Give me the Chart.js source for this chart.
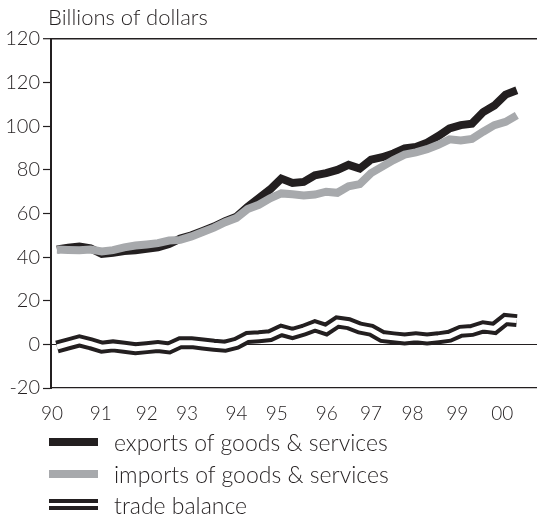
<!DOCTYPE html>
<html>
<head>
<meta charset="utf-8">
<script src="https://cdn.jsdelivr.net/npm/chart.js@4"></script>
<style>
  html, body { margin: 0; padding: 0; background: #fff; }
  body { width: 537px; height: 517px; position: relative; overflow: hidden; font-family: Lato, "Noto Sans", sans-serif; font-weight: 300; color: #231f20; }
  #chart { position: absolute; left: 0; top: 0; }
  .title { position: absolute; left: 48px; top: 4px; font-size: 22px; line-height: 26px; white-space: nowrap; }
  .leg { position: absolute; left: 0; height: 30px; width: 537px; }
  .leg .txt { position: absolute; left: 114px; top: 0; font-size: 23px; line-height: 30px; white-space: nowrap; }
  .leg .sym { position: absolute; left: 49px; width: 49px; }
</style>
</head>
<body>
<canvas id="chart" width="537" height="428"></canvas>
<div class="title">Billions of dollars</div>
<div class="leg" style="top:427px"><div class="sym" style="top:11px;height:8px;background:#231f20"></div><div class="txt">exports of goods &amp; services</div></div>
<div class="leg" style="top:459px"><div class="sym" style="top:11px;height:8px;background:#a7a9ac"></div><div class="txt">imports of goods &amp; services</div></div>
<div class="leg" style="top:490px"><div class="sym" style="top:9px;height:3.5px;background:#231f20"></div><div class="sym" style="top:16px;height:3.5px;background:#231f20"></div><div class="txt">trade balance</div></div>
<script>
// Quarterly data, 1990Q1 .. 2000Q2 (billions of dollars)
const exportsVals = [43.5, 44.3, 44.8, 44.0, 41.5, 42.0, 42.8, 43.2, 43.8, 44.5, 46.0, 48.5,
  50.0, 52.0, 54.0, 56.5, 58.5, 63.0, 67.0, 71.0, 76.0, 74.0, 74.5, 77.5,
  78.5, 80.0, 82.3, 80.6, 84.7, 85.8, 87.5, 89.8, 90.5, 92.5, 95.5, 99.0,
  100.5, 101.2, 106.5, 109.5, 114.5, 116.5];
const importsVals = [43.5, 43.3, 43.2, 43.5, 42.6, 43.2, 44.5, 45.3, 45.8, 46.4, 47.6, 47.9,
  49.5, 51.5, 53.5, 56.0, 58.0, 62.0, 64.0, 67.0, 69.2, 68.8, 68.3, 68.7,
  70.0, 69.5, 72.5, 73.5, 78.5, 81.5, 84.5, 87.0, 88.0, 89.5, 91.5, 94.0,
  93.5, 94.2, 97.5, 100.5, 102.0, 105.0];
const balanceVals = [-1.2, 0.2, 1.6, 0.3, -1.3, -0.7, -1.3, -2.0, -1.5, -1.0, -1.6, 0.8,
  0.8, 0.2, -0.4, -0.8, 0.5, 3.2, 3.5, 4.0, 6.4, 5.0, 6.5, 8.5,
  6.8, 10.2, 9.5, 7.5, 6.5, 3.6, 3.0, 2.5, 3.0, 2.5, 3.0, 3.7,
  6.0, 6.4, 8.0, 7.3, 11.4, 10.9];
// Year tick labels and where they sit (in quarter-index units)
const yearLabels = ['90', '91', '92', '93', '94', '95', '96', '97', '98', '99', '00'];
const yearTickPos = [-0.45, 3.9, 8.0, 11.6, 16.0, 19.6, 24.06, 28.0, 31.7, 35.7, 39.7];
// Value axis ticks and their printed labels (as shown in the original)
const yTickValues = [-20, 0, 20, 40, 60, 80, 100, 120, 140];
const yTickLabels = ['-20', '0', '20', '40', '60', '80', '100', '120', '120'];

const INK = '#231f20';
const GRAY = '#a7a9ac';
const pts = arr => arr.map((v, i) => ({ x: i, y: v }));

function draw() {
  new Chart(document.getElementById('chart'), {
    type: 'line',
    data: {
      datasets: [
        { label: 'imports of goods & services', data: pts(importsVals), borderColor: GRAY, borderWidth: 8, order: 1 },
        { label: 'exports of goods & services', data: pts(exportsVals), borderColor: INK, borderWidth: 8, order: 2 },
        { label: 'trade balance (inner)', data: pts(balanceVals), borderColor: '#ffffff', borderWidth: 5, order: 3 },
        { label: 'trade balance', data: pts(balanceVals), borderColor: INK, borderWidth: 13, order: 4 }
      ]
    },
    options: {
      responsive: false,
      animation: false,
      devicePixelRatio: 1,
      layout: { padding: { top: 39, left: 0, right: 0, bottom: 0 } },
      elements: {
        point: { radius: 0, hoverRadius: 0 },
        line: { tension: 0, borderJoinStyle: 'miter', borderCapStyle: 'butt', fill: false }
      },
      plugins: { legend: { display: false }, tooltip: { enabled: false } },
      events: [],
      scales: {
        x: {
          type: 'linear',
          min: -0.53,
          max: 42.8,
          afterFit: s => { s.height = 40; s.paddingLeft = 0; s.paddingRight = 0; },
          afterBuildTicks: s => { s.ticks = yearTickPos.map(v => ({ value: v })); },
          ticks: {
            autoSkip: false, maxRotation: 0, padding: 14,
            color: INK, font: { family: 'Lato', size: 19, weight: '300' },
            callback: (v, i) => yearLabels[i]
          },
          grid: { display: false, drawTicks: false },
          border: { display: true, color: INK, width: 1.2 }
        },
        y: {
          min: -20,
          max: 140,
          afterFit: s => { s.width = 51; s.paddingTop = 0; s.paddingBottom = 0; },
          afterBuildTicks: s => { s.ticks = yTickValues.map(v => ({ value: v })); },
          ticks: {
            padding: 3, color: INK, font: { family: 'Lato', size: 20, weight: '300' },
            callback: (v, i) => yTickLabels[i]
          },
          grid: {
            drawTicks: true, tickLength: 8, tickColor: INK, tickWidth: 1.2,
            color: c => (c.tick && (c.tick.value === 0 || c.tick.value === 140)) ? INK : 'rgba(0,0,0,0)',
            lineWidth: c => (c.tick && c.tick.value === 140) ? 1.4 : 1
          },
          border: { display: true, color: INK, width: 2 }
        }
      }
    }
  });
}
if (document.fonts && document.fonts.load) {
  Promise.all([document.fonts.load('300 19px Lato'), document.fonts.load('300 22px Lato')]).then(draw, draw);
} else { draw(); }
</script>
</body>
</html>
